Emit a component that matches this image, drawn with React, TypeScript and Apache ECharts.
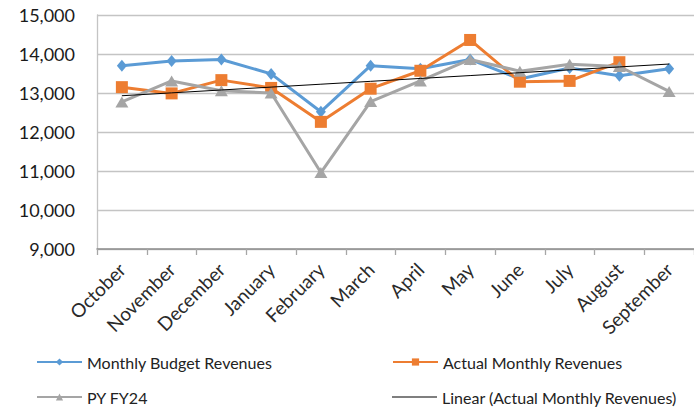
import React, { useEffect, useRef } from "react";
import * as echarts from "echarts";

const months = ["October", "November", "December", "January", "February", "March", "April", "May", "June", "July", "August", "September"];
const budgetValues = [13700, 13820, 13860, 13490, 12520, 13700, 13620, 13860, 13360, 13640, 13440, 13620];
const actualValues: (number | null)[] = [13150, 12990, 13330, 13130, 12260, 13110, 13570, 14360, 13290, 13310, 13790, null];
const pyValues = [12770, 13310, 13060, 13000, 10960, 12780, 13310, 13860, 13560, 13740, 13680, 13040];
const yTicks = { min: 9000, max: 15000, interval: 1000 };

// Linear trend (least squares) of the actual values, as Excel computes it
function linearTrend(vals: (number | null)[], n: number): number[] {
  const pts: [number, number][] = [];
  vals.forEach((v, i) => { if (v != null) pts.push([i, v]); });
  const mx = pts.reduce((s, p) => s + p[0], 0) / pts.length;
  const my = pts.reduce((s, p) => s + p[1], 0) / pts.length;
  let sxy = 0, sxx = 0;
  pts.forEach(([x, y]) => { sxy += (x - mx) * (y - my); sxx += (x - mx) * (x - mx); });
  const b = sxy / sxx;
  const a = my - b * mx;
  return Array.from({ length: n }, (_, i) => a + b * i);
}

const FONT = "Lato";

export default function App() {
  const ref = useRef<HTMLDivElement>(null);
  useEffect(() => {
    if (!ref.current) return;
    const chart = echarts.init(ref.current, undefined, { renderer: "svg" });
    const trend = linearTrend(actualValues, months.length);
    const legendText = { fontFamily: FONT, fontSize: 16, color: "#222" };
    const legendBase = {
      orient: "horizontal" as const,
      itemWidth: 45,
      itemHeight: 9,
      itemGap: 0,
      textStyle: legendText,
      padding: 0,
    };
    chart.setOption({
      animation: false,
      backgroundColor: "#fff",
      grid: { left: 97, top: 15, bottom: 160, width: 600 },
      xAxis: {
        type: "category",
        data: months,
        boundaryGap: true,
        axisLine: { show: true, lineStyle: { color: "#8C8C8C", width: 1.5 } },
        axisTick: { show: true, length: 6, lineStyle: { color: "#A6A6A6", width: 1.3 } },
        axisLabel: { rotate: 45, fontFamily: FONT, fontSize: 19, color: "#2a2a2a", margin: 17, interval: 0 },
      },
      yAxis: {
        type: "value",
        min: yTicks.min,
        max: yTicks.max,
        interval: yTicks.interval,
        axisLine: { show: true, lineStyle: { color: "#C4C4C4", width: 1.3 } },
        axisTick: { show: false },
        splitLine: { lineStyle: { color: "#C4C4C4", width: 1.3 } },
        axisLabel: {
          fontFamily: FONT,
          fontSize: 18,
          color: "#1a1a1a",
          margin: 22,
          formatter: (v: number) => v.toLocaleString("en-US"),
        },
      },
      legend: [
        { ...legendBase, left: 36, top: 354, data: ["Monthly Budget Revenues"] },
        { ...legendBase, left: 392, top: 354, data: ["Actual Monthly Revenues"] },
        { ...legendBase, left: 36, top: 389, data: ["PY FY24"] },
        {
          ...legendBase,
          left: 392,
          top: 389,
          data: [{ name: "Linear (Actual Monthly Revenues)", icon: "rect" }],
          itemHeight: 1.2,
        },
      ],
      series: [
        {
          name: "Monthly Budget Revenues",
          type: "line",
          data: budgetValues,
          symbol: "diamond",
          symbolSize: [10, 12],
          lineStyle: { color: "#5B9BD5", width: 3 },
          itemStyle: { color: "#5B9BD5" },
          z: 3,
        },
        {
          name: "Actual Monthly Revenues",
          type: "line",
          data: actualValues,
          symbol: "rect",
          symbolSize: 12,
          lineStyle: { color: "#ED7D31", width: 3 },
          itemStyle: { color: "#ED7D31" },
          z: 4,
        },
        {
          name: "PY FY24",
          type: "line",
          data: pyValues,
          symbol: "triangle",
          symbolSize: [13, 11],
          lineStyle: { color: "#A5A5A5", width: 3 },
          itemStyle: { color: "#A5A5A5" },
          z: 5,
        },
        {
          name: "Linear (Actual Monthly Revenues)",
          type: "line",
          data: trend,
          symbol: "none",
          lineStyle: { color: "#000", width: 1 },
          itemStyle: { color: "#000" },
          z: 6,
        },
      ],
    });
    return () => chart.dispose();
  }, []);
  return <div ref={ref} style={{ width: 694, height: 409, position: "absolute", left: 0, top: 0 }} />;
}
